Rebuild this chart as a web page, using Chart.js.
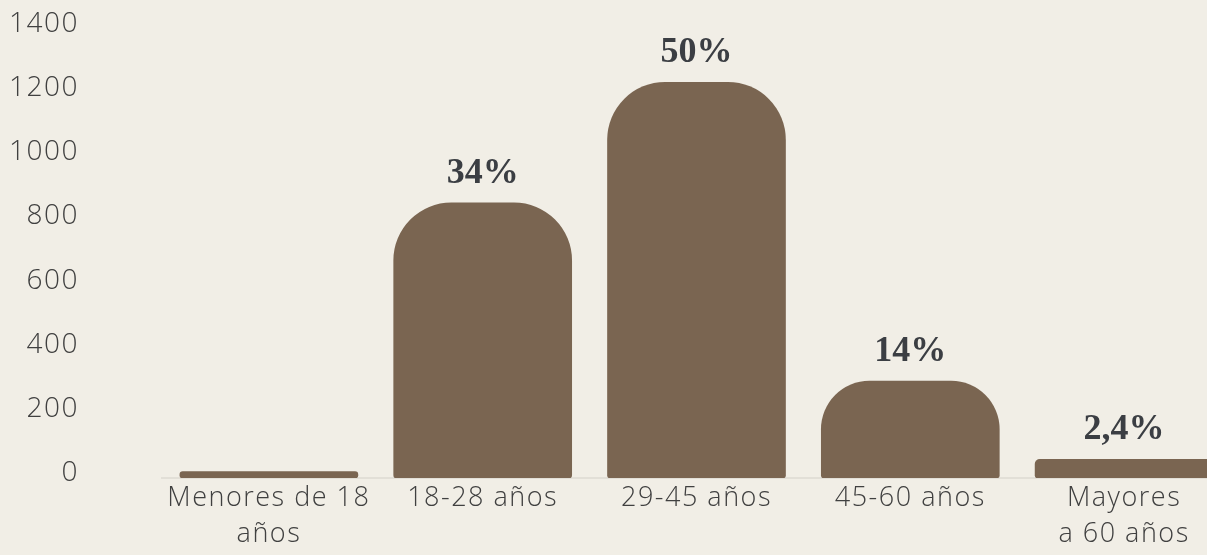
<!DOCTYPE html>
<html>
<head>
<meta charset="utf-8">
<script src="https://cdn.jsdelivr.net/npm/chart.js@4"></script>
<style>
html, body { margin: 0; padding: 0; background: #f1eee6; overflow: hidden; }
#wrap { width: 1231px; height: 555px; }
</style>
</head>
<body>
<div id="wrap"><canvas id="edadChart" width="1231" height="555"></canvas></div>
<script>
// rangos de edad y personas por rango
var categorias = [["Menores de 18", "años"], "18-28 años", "29-45 años", "45-60 años", ["Mayores", "a 60 años"]];
var personas = [20, 858, 1234, 302, 58];
var porcentajes = ["", "34%", "50%", "14%", "2,4%"];
var marcasEje = [0, 200, 400, 600, 800, 1000, 1200, 1400];

var cafe = "#7a6551";
var textoGris = "#404040";
var fuente = "'Open Sans', Lato, sans-serif";

// texto de ejes un poco más espaciado
var espaciado = {
  id: 'espaciado',
  beforeUpdate: function(chart) { chart.ctx.letterSpacing = '1.5px'; },
  beforeDraw: function(chart) { chart.ctx.letterSpacing = '1.5px'; }
};

// porcentaje encima de cada barra
var etiquetasPorcentaje = {
  id: 'etiquetasPorcentaje',
  afterDatasetsDraw: function(chart) {
    var ctx = chart.ctx;
    var meta = chart.getDatasetMeta(0);
    ctx.save();
    ctx.letterSpacing = '0px';
    ctx.font = 'bold 36px "Liberation Serif"';
    ctx.fillStyle = '#3b3e43';
    ctx.textAlign = 'center';
    ctx.textBaseline = 'alphabetic';
    meta.data.forEach(function(bar, i) {
      if (porcentajes[i]) ctx.fillText(porcentajes[i], bar.x, bar.y - 20);
    });
    ctx.restore();
  }
};

var ctx = document.getElementById("edadChart");
new Chart(ctx, {
  type: 'bar',
  data: {
    labels: categorias,
    datasets: [{
      data: personas,
      backgroundColor: cafe,
      borderWidth: 0,
      borderSkipped: false,
      barThickness: 178,
      borderRadius: function(c) {
        var r = c.raw > 100 ? 58 : 5;
        return { topLeft: r, topRight: r, bottomLeft: 3, bottomRight: 3 };
      }
    }]
  },
  options: {
    responsive: false,
    animation: false,
    devicePixelRatio: 1,
    layout: { padding: { top: 29, left: 0, right: 0, bottom: 0 } },
    plugins: {
      legend: { display: false },
      tooltip: { enabled: false }
    },
    scales: {
      x: {
        grid: { display: false, drawTicks: false },
        border: { display: true, color: '#e2dfd7', width: 2 },
        ticks: {
          color: textoGris,
          padding: 2,
          maxRotation: 0,
          autoSkip: false,
          font: { family: fuente, weight: '300', size: 27, lineHeight: 1.33 }
        },
        afterFit: function(scale) { scale.height = 77; }
      },
      y: {
        min: 0,
        max: 1400,
        grid: { display: false, drawTicks: true, tickLength: 75 },
        border: { display: false },
        afterBuildTicks: function(scale) {
          scale.ticks = marcasEje.map(function(v) { return { value: v }; });
        },
        ticks: {
          color: textoGris,
          padding: 8,
          labelOffset: -5,
          font: { family: fuente, weight: '300', size: 28 },
          callback: function(v) { return String(v); }
        },
        afterFit: function(scale) { scale.width = 162; }
      }
    }
  },
  plugins: [espaciado, etiquetasPorcentaje]
});
</script>
</body>
</html>
